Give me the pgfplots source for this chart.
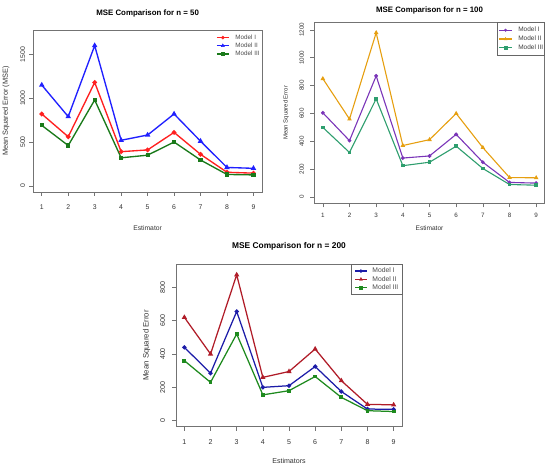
\documentclass[border=0pt]{standalone}
\usepackage{pgfplots}
\pgfplotsset{compat=1.18}
\usepackage{fontspec}
\setmainfont{Liberation Sans}
\definecolor{cRed}{HTML}{FF2020}
\definecolor{cBlue}{HTML}{2020FF}
\definecolor{cGreen}{HTML}{1A7A1A}
\definecolor{cPurple}{HTML}{7A35B8}
\definecolor{cOrange}{HTML}{E69F10}
\definecolor{cSea}{HTML}{2E9E6E}
\definecolor{cNavy}{HTML}{1C1CA8}
\definecolor{cDRed}{HTML}{B01C28}
\definecolor{cFGreen}{HTML}{1E8A1E}
\pgfplotsset{
  rstyle/.style={
    scale only axis,
    /pgf/number format/assume math mode=true,
    /pgf/number format/1000 sep={},
    axis line style={black!55, line width=0.6bp},
    every tick/.style={black!55, line width=0.6bp},
    tick align=outside,
    major tick length=4bp,
    xtick={1,...,9},
    xmin=0.68, xmax=9.32,
    axis x line*=box, axis y line*=box,
    xtick pos=bottom, ytick pos=left,
    legend cell align=left,
    clip=false,
  },
}
\begin{document}
\begin{tikzpicture}
\useasboundingbox (0,0) rectangle (550bp,469bp);
% ---------- Panel 1: n = 50
\begin{axis}[rstyle,
  at={(33.3bp,277bp)}, anchor=south west,
  width=228.6bp, height=162bp,
  ymin=-70, ymax=1778,
  ytick={0,500,1000,1500},
  title={MSE Comparison for n = 50},
  title style={at={(axis description cs:0.5,1)}, anchor=center, yshift=10.8bp, font=\fontsize{7.9}{9}\selectfont\bfseries},
  xlabel={Estimator},
  xlabel style={at={(axis description cs:0.5,-0.2204)}, anchor=center, font=\fontsize{6.8}{8}\selectfont, text=black!80},
  ylabel={Mean Squared Error (MSE)},
  ylabel style={at={(axis description cs:-0.1194,0.5)}, anchor=center, font=\fontsize{7.4}{8}\selectfont, text=black!80},
  xticklabel style={anchor=center, yshift=-11.3bp, font=\fontsize{6.9}{8}\selectfont, text=black!80},
  yticklabel style={xshift=-6.6bp, rotate=90, anchor=center, font=\fontsize{6.9}{8}\selectfont, text=black!80},
  legend style={at={(axis description cs:0.799,0.973)}, anchor=north west, draw=none, fill=none,
    font=\fontsize{6.3}{7}\selectfont, text=black!70, inner sep=0pt, row sep=2.1bp, column sep=6bp,
    nodes={inner sep=0pt}},
  legend image code/.code={\draw[#1, line width=1.3bp] (0bp,0bp) -- (12bp,0bp); \path[#1, line width=0.4bp] plot coordinates {(6bp,0bp)};},
  every axis plot/.append style={line width=1.35bp},
]
\addplot[cRed, mark=*, mark size=1.6bp] coordinates {(1,820) (2,560) (3,1180) (4,390) (5,410) (6,610) (7,360) (8,155) (9,145)};
\addplot[cBlue, mark=triangle*, mark size=1.9bp] coordinates {(1,1150) (2,790) (3,1600) (4,520) (5,580) (6,820) (7,510) (8,210) (9,200)};
\addplot[cGreen, mark=square*, mark size=1.4bp] coordinates {(1,690) (2,460) (3,980) (4,320) (5,350) (6,500) (7,295) (8,130) (9,125)};
\legend{Model I, Model II, Model III}
\end{axis}
% ---------- Panel 2: n = 100
\begin{axis}[rstyle,
  at={(314.3bp,265.7bp)}, anchor=south west,
  width=230.4bp, height=181bp,
  ymin=-45, ymax=1255,
  ytick={0,200,400,600,800,1000,1200},
  title={MSE Comparison for n = 100},
  title style={at={(axis description cs:0.5,1)}, anchor=center, yshift=5.5bp, font=\fontsize{7.9}{9}\selectfont\bfseries},
  xlabel={Estimator},
  xlabel style={at={(axis description cs:0.5,-0.1365)}, anchor=center, font=\fontsize{6.6}{8}\selectfont, text=black!80},
  ylabel={Mean Squared Error},
  ylabel style={at={(axis description cs:-0.1228,0.5)}, anchor=center, font=\fontsize{6.0}{7}\selectfont, text=black!80},
  xticklabel style={anchor=center, yshift=-7.7bp, font=\fontsize{6.3}{8}\selectfont, text=black!80},
  yticklabel style={xshift=-8.6bp, rotate=90, anchor=center, font=\fontsize{6.3}{8}\selectfont, text=black!80},
  legend style={at={(axis description cs:1,1)}, anchor=north east, draw=black!60, line width=0.5bp, fill=white,
    font=\fontsize{6.5}{7}\selectfont, text=black!75, inner xsep=1.3bp, inner ysep=4.6bp, row sep=2.6bp, column sep=5.7bp,
    nodes={inner sep=0pt}},
  legend image code/.code={\draw[#1, line width=1.1bp] (0bp,0bp) -- (13bp,0bp); \path[#1, line width=0.4bp] plot coordinates {(6.5bp,0bp)};},
  every axis plot/.append style={line width=1.1bp},
]
\addplot[cPurple, mark=*, mark size=1.3bp] coordinates {(1,605) (2,405) (3,870) (4,280) (5,295) (6,450) (7,250) (8,105) (9,100)};
\addplot[cOrange, mark=triangle*, mark size=1.6bp] coordinates {(1,850) (2,560) (3,1180) (4,370) (5,412) (6,600) (7,355) (8,140) (9,138)};
\addplot[cSea, mark=square*, mark size=1.2bp] coordinates {(1,500) (2,320) (3,705) (4,225) (5,250) (6,365) (7,205) (8,90) (9,85)};
\legend{Model I\hspace{4bp}, Model II\hspace{4bp}, Model III\hspace{4bp}}
\end{axis}
% ---------- Panel 3: n = 200
\begin{axis}[rstyle,
  at={(176bp,42.3bp)}, anchor=south west,
  width=226bp, height=162.7bp,
  ymin=-36, ymax=940,
  ytick={0,200,400,600,800},
  title={MSE Comparison for n = 200},
  title style={at={(axis description cs:0.5,1)}, anchor=center, yshift=11.5bp, font=\fontsize{8.4}{10}\selectfont\bfseries},
  xlabel={Estimators},
  xlabel style={at={(axis description cs:0.5,-0.209)}, anchor=center, font=\fontsize{7.1}{8}\selectfont, text=black!80},
  ylabel={Mean Squared Error},
  ylabel style={at={(axis description cs:-0.1296,0.5)}, anchor=center, font=\fontsize{7.8}{9}\selectfont, text=black!80},
  xticklabel style={anchor=center, yshift=-11.3bp, font=\fontsize{7.1}{8}\selectfont, text=black!80},
  yticklabel style={xshift=-9.3bp, rotate=90, anchor=center, font=\fontsize{7.1}{8}\selectfont, text=black!80},
  legend style={at={(axis description cs:1,1)}, anchor=north east, draw=black!60, line width=0.5bp, fill=white,
    font=\fontsize{6.8}{7}\selectfont, text=black!70, inner xsep=3.4bp, inner ysep=3.6bp, row sep=1.9bp, column sep=5bp,
    nodes={inner sep=0pt}},
  legend image code/.code={\draw[#1, line width=1.25bp] (0bp,0bp) -- (11.6bp,0bp); \path[#1, line width=0.4bp] plot coordinates {(5.8bp,0bp)};},
  every axis plot/.append style={line width=1.25bp},
]
\addplot[cNavy, mark=*, mark size=1.5bp] coordinates {(1,440) (2,285) (3,655) (4,200) (5,210) (6,325) (7,175) (8,70) (9,68)};
\addplot[cDRed, mark=triangle*, mark size=1.8bp] coordinates {(1,620) (2,400) (3,875) (4,260) (5,295) (6,430) (7,240) (8,98) (9,95)};
\addplot[cFGreen, mark=square*, mark size=1.3bp] coordinates {(1,360) (2,230) (3,520) (4,155) (5,180) (6,265) (7,140) (8,60) (9,55)};
\legend{Model I, Model II, Model III}
\end{axis}
\end{tikzpicture}
\end{document}
